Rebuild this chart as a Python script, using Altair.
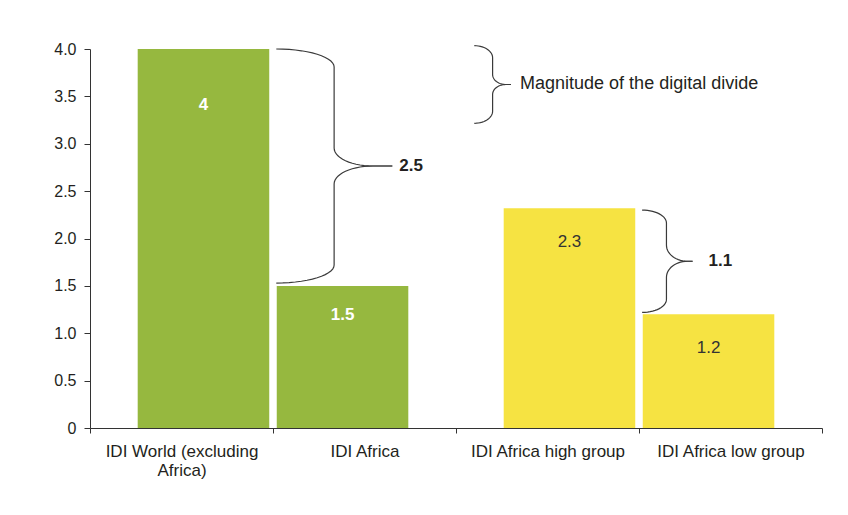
import math
import altair as alt
import pandas as pd

# ---------------- data ----------------
names = ["IDI World (excluding\nAfrica)", "IDI Africa", "IDI Africa high group", "IDI Africa low group"]
values = [4.0, 1.5, 2.32, 1.2]
value_labels = ["4", "1.5", "2.3", "1.2"]
pairs = ["World vs Africa", "World vs Africa", "Within Africa", "Within Africa"]
members = ["first", "second", "first", "second"]
pair_names = ["World vs Africa", "Within Africa"]
member_names = ["first", "second"]
pair_colors = ["#96b83f", "#f6e342"]
legend_text = "Magnitude of the digital divide"
y_ticks = [0, 0.5, 1.0, 1.5, 2.0, 2.5, 3.0, 3.5, 4.0]

FONT = "Liberation Sans"
INK = "#231f20"

df = pd.DataFrame({
    "idx": list(range(len(names))),
    "name": names,
    "value": values,
    "vlabel": value_labels,
    "pair": pairs,
    "member": members,
})

# ---------------- brace annotations (shape helper) ----------------
def brace(key, x0, xv, xc, xt, ytop, ybot, h1, h2, n=14):
    ymid = (ytop + ybot) / 2.0
    upper = []
    for k in range(n + 1):
        t = (math.pi / 2) * k / n
        upper.append((x0 + (xv - x0) * math.sin(t), ytop - h1 + h1 * math.cos(t)))
    for k in range(n + 1):
        t = (math.pi / 2) * k / n
        upper.append((xc - (xc - xv) * math.cos(t), ymid + h2 - h2 * math.sin(t)))
    upper.append((xt, ymid))
    rows = []
    for i, (x, y) in enumerate(upper):
        rows.append({"seg": key + "_u", "i": i, "x": x, "y": y})
        rows.append({"seg": key + "_l", "i": i, "x": x, "y": 2 * ymid - y})
    return rows, ymid

big_rows, big_mid = brace("big", 1.018, 1.334, 1.546, 1.652, values[0], values[1] + 0.03, 0.19, 0.19)
small_rows, small_mid = brace("small", 3.017, 3.150, 3.265, 3.293, values[2] - 0.02, values[3] + 0.02, 0.137, 0.17)
key_rows, key_mid = brace("key", 2.100, 2.200, 2.272, 2.300, 4.035, 3.216, 0.127, 0.106)
brace_df = pd.DataFrame(big_rows + small_rows + key_rows)

notes_df = pd.DataFrame({
    "x": [1.69, 3.38],
    "y": [big_mid, small_mid],
    "t": [f"{values[0] - values[1]:.1f}", f"{values[2] - values[3]:.1f}"],
})
key_df = pd.DataFrame({"x": [2.35], "y": [key_mid], "t": [legend_text]})

# ---------------- shared encodings ----------------
yscale = alt.Scale(domain=[0, 4], nice=False, zero=True)
yaxis = alt.Axis(
    values=y_ticks,
    labelExpr="datum.value == 0 ? '0' : format(datum.value, '.1f')",
    title=None, grid=False, tickSize=6, labelPadding=8,
    labelFontSize=16, labelFont=FONT, labelColor=INK,
    domainColor="#333333", tickColor="#333333",
)

def Y(field):
    return alt.Y(field, scale=yscale, axis=yaxis)

pair_x = alt.X("pair:N", sort=pair_names,
               scale=alt.Scale(domain=pair_names, paddingInner=0, paddingOuter=0), axis=None)
member_off = alt.XOffset("member:N", sort=member_names,
                         scale=alt.Scale(domain=member_names, paddingInner=0.054, paddingOuter=0.343))
qx = alt.Scale(domain=[0, 4], nice=False, zero=False)

base = alt.Chart(df)

axis_layer = base.mark_bar(opacity=0).encode(
    x=alt.X("name:N", sort=names, scale=alt.Scale(domain=names, paddingInner=0, paddingOuter=0),
            axis=alt.Axis(title=None, labelAngle=0, tickBand="extent", tickSize=5,
                          labelPadding=10, labelFontSize=17, labelFont=FONT,
                          labelColor=INK, labelLineHeight=19,
                          labelExpr="split(datum.label, '\\n')",
                          domainColor="#333333", tickColor="#333333")),
    y=Y("value:Q"),
)

bars = base.mark_bar().encode(
    x=pair_x,
    xOffset=member_off,
    y=Y("value:Q"),
    color=alt.Color("pair:N", scale=alt.Scale(domain=pair_names, range=pair_colors), legend=None),
)

lab1 = base.mark_text(font=FONT, fontSize=17, fontWeight="bold", color="white",
                      baseline="middle", dy=56).encode(
    x=pair_x, xOffset=member_off, y=Y("value:Q"), text="vlabel:N"
).transform_filter(alt.datum.idx == 0)

lab2 = base.mark_text(font=FONT, fontSize=17, fontWeight="bold", color="white",
                      baseline="middle", dy=29).encode(
    x=pair_x, xOffset=member_off, y=Y("value:Q"), text="vlabel:N"
).transform_filter(alt.datum.idx == 1)

lab3 = base.mark_text(font=FONT, fontSize=17, color="#333333",
                      baseline="middle", dy=34).encode(
    x=pair_x, xOffset=member_off, y=Y("value:Q"), text="vlabel:N"
).transform_filter(alt.datum.pair == "Within Africa")

braces = alt.Chart(brace_df).mark_line(color="#3a3a3a", strokeWidth=1.2).encode(
    x=alt.X("x:Q", scale=qx, axis=None),
    y=Y("y:Q"),
    detail="seg:N",
    order="i:Q",
)

notes = alt.Chart(notes_df).mark_text(font=FONT, fontSize=17, fontWeight="bold",
                                      color=INK, align="left", baseline="middle").encode(
    x=alt.X("x:Q", scale=qx, axis=None), y=Y("y:Q"), text="t:N")

key = alt.Chart(key_df).mark_text(font=FONT, fontSize=18, color=INK,
                                  align="left", baseline="middle").encode(
    x=alt.X("x:Q", scale=qx, axis=None), y=Y("y:Q"), text="t:N")

chart = alt.layer(axis_layer, bars, lab1, lab2, lab3, braces, notes, key).resolve_scale(
    x="independent"
).properties(
    width=732, height=379,
    autosize=alt.AutoSizeParams(type="none"),
    padding={"left": 82, "top": 41, "right": 10, "bottom": 70},
    background="white",
).configure_view(stroke=None)

chart.save("out.html", embed_options={"renderer": "svg", "actions": False})
